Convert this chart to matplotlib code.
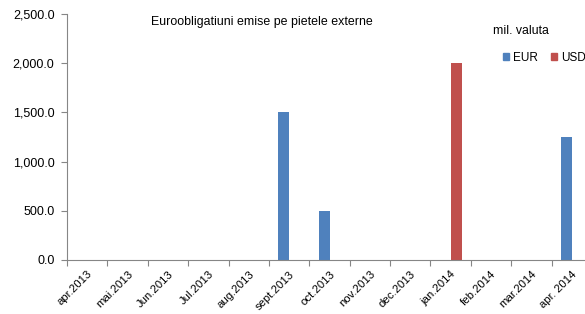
import numpy as np
import matplotlib.pyplot as plt
from matplotlib.patches import Patch

plt.rcParams['font.family'] = ['Liberation Sans', 'DejaVu Sans']

# date
luni = ['apr.2013', 'mai.2013', 'Jun.2013', 'Jul.2013', 'aug.2013', 'sept.2013',
        'oct.2013', 'nov.2013', 'dec.2013', 'jan.2014', 'feb.2014', 'mar.2014', 'apr. 2014']
eur = [0, 0, 0, 0, 0, 1500, 500, 0, 0, 0, 0, 0, 1250]
usd = [0, 0, 0, 0, 0, 0, 0, 0, 0, 2000, 0, 0, 0]
yticks = [0, 500, 1000, 1500, 2000, 2500]

c_eur = '#4F81BD'
c_usd = '#C0504D'
gri = '#868686'

fig = plt.figure(figsize=(5.85, 3.14), dpi=100)
# axa iese putin in dreapta, ca in original (taiat)
ax = fig.add_axes([67 / 585, 1 - 260 / 314, 525 / 585, 246 / 314])

x = np.arange(len(luni))
w = 0.27
ax.bar(x - w / 2, eur, w, color=c_eur)
ax.bar(x + w / 2, usd, w, color=c_usd)

ax.set_xlim(-0.5, len(luni) - 0.5)
ax.set_ylim(0, 2500)
ax.set_yticks(yticks)
ax.set_yticklabels([f'{v:,.1f}' for v in yticks], fontsize=9)

# ticks intre categorii, etichete la centru
ax.set_xticks(np.arange(len(luni) + 1) - 0.5)
ax.set_xticklabels([])
ax.set_xticks(x, minor=True)
ax.set_xticklabels(luni, minor=True, rotation=45, ha='right', rotation_mode='anchor', fontsize=8.2)
ax.tick_params(axis='x', which='minor', length=0, pad=6.5)
ax.tick_params(axis='x', which='major', length=4, color=gri)
ax.tick_params(axis='y', length=4, color=gri, pad=5)

for s in ['top', 'right']:
    ax.spines[s].set_visible(False)
for s in ['left', 'bottom']:
    ax.spines[s].set_color(gri)

fig.text(151 / 585, 1 - 22 / 314, 'Euroobligatiuni emise pe pietele externe',
         fontsize=8.9, va='center', ha='left')
fig.text(493 / 585, 1 - 31 / 314, 'mil. valuta', fontsize=8.8, va='center', ha='left')

handles = [Patch(color=c_eur, label='EUR'), Patch(color=c_usd, label='USD')]
fig.legend(handles=handles, loc='center left', bbox_to_anchor=(503 / 585, 1 - 58 / 314),
           ncol=2, frameon=False, fontsize=8.5, handlelength=0.55, handleheight=0.55,
           handletextpad=0.3, columnspacing=1.1, borderaxespad=0, borderpad=0)

fig.savefig('out.png', dpi=100)
